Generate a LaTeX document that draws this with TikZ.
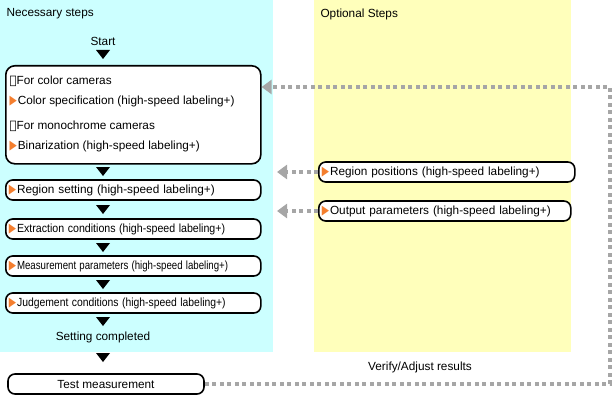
\documentclass[tikz,border=0pt]{standalone}
\usepackage{fontspec}
\setmainfont{Liberation Sans}
\newfontfamily\symfont{DejaVu Sans}
\usetikzlibrary{arrows.meta,positioning}
\definecolor{needbg}{HTML}{CCFFFF}
\definecolor{optbg}{HTML}{FFFFBB}
\definecolor{dotgray}{HTML}{A6A6A6}
\definecolor{markorange}{HTML}{F47E2E}
\newcommand{\stepmark}{{\symfont\color{markorange}\scalebox{0.8}[1.1]{▶}}\kern1pt}
\newcommand{\dotmark}{{\symfont ・}}
\tikzset{
    stepbox/.style={draw, line width=1.6pt, rounded corners=7pt, fill=white, minimum height=20pt, anchor=west, inner xsep=3pt, align=left},
    back/.style={dotgray, line width=4pt, dash pattern=on 4pt off 3.5pt, -{Triangle[width=14pt,length=10pt]}},
    txt/.style={font=\fontsize{11.8}{14}\selectfont}
}
\begin{document}
\begin{tikzpicture}[x=1pt, y=-1pt, every node/.style={txt}]
\useasboundingbox (0,0) rectangle (615,401);
\fill[needbg](0,0) rectangle (273,352);
\fill[optbg](314,0) rectangle (571,352);
\node[anchor=west] at (3,14) {Necessary steps};
\node[anchor=west] at (317,14) {Optional Steps};

\node (start) at (103,41) {Start};
% downward marks
\foreach \y in {55,172,210,248,285,322,358}
{
    \fill (96,\y-5)--(110,\y-5)--(103,\y+4)--cycle;
}

\node[draw, line width=1.6pt, rounded corners=9pt, fill=white, minimum width=255pt, minimum height=98pt, anchor=north west] (camera) at (5,65) {};
\node[anchor=west] at (6,81) {\dotmark For color cameras};
\node[anchor=west] at (6,101) {\stepmark Color specification (high-speed labeling+)};
\node[anchor=west] at (6,126) {\dotmark For monochrome cameras};
\node[anchor=west] at (6,146) {\stepmark Binarization (high-speed labeling+)};

\node[stepbox, text width=249pt] (region) at (5,190) {\stepmark Region setting (high-speed labeling+)};
\node[stepbox, text width=249pt] (extract) at (5,229) {\stepmark\scalebox{0.9}[1]{Extraction conditions (high-speed labeling+)}};
\node[stepbox, text width=249pt] (measure) at (5,266) {\stepmark\scalebox{0.82}[1]{Measurement parameters (high-speed labeling+)}};
\node[stepbox, text width=249pt] (judge) at (5,303) {\stepmark\scalebox{0.88}[1]{Judgement conditions (high-speed labeling+)}};
\node (done) at (103,337) {Setting completed};
\node[stepbox, minimum width=196pt, anchor=center, align=center] (test) at (106,384) {Test measurement};

\node[stepbox, text width=250pt] (regpos) at (318,172) {\stepmark Region positions (high-speed labeling+)};
\node[stepbox, text width=246pt] (outpar) at (318,211) {\stepmark Output parameters (high-speed labeling+)};
\node (verify) at (420,367) {Verify/Adjust results};

\coordinate (turnlow) at (610,384);
\coordinate (turnhigh) at (610,87);
\draw[back] (regpos.west) -- (277,172);
\draw[back] (outpar.west) -- (277,211);
\draw[back] (test.east) -- (turnlow) -- (turnhigh) -- (camera.east |- turnhigh);
\end{tikzpicture}
\end{document}
